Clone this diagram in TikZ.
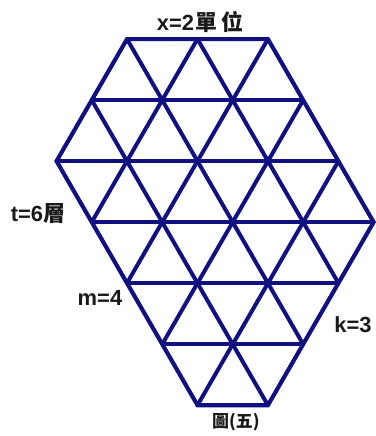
\documentclass[tikz,border=0pt]{standalone}
\usepackage{fontspec}
\setmainfont{Liberation Sans}
\newfontfamily\cjk{Noto Sans CJK TC}
\usetikzlibrary{calc}
\definecolor{navy}{RGB}{16,16,128}
\definecolor{ink}{RGB}{25,25,25}
\tikzset{
  grid line/.style={line width=4bp,draw=navy},
  tag/.style={font=\fontsize{22}{24}\selectfont\bfseries,text=ink,inner sep=0pt},
  caption/.style={font=\fontsize{17}{19}\selectfont\cjk\bfseries,text=ink,inner sep=0pt},
}
\begin{document}
\begin{tikzpicture}[x=70.5bp,y=61.05bp]
  \useasboundingbox (-1.801,-6.503) rectangle (3.532,0.639);
  % corners of the hexagon
  \coordinate (tl) at (0,0); \coordinate (tr) at (2,0); \coordinate (rr) at (3.5,-3);
  \coordinate (br) at (2,-6); \coordinate (bl) at (1,-6); \coordinate (ll) at (-1,-2);
  \begin{scope}
    \clip (tl) -- (tr) -- (rr) -- (br) -- (bl) -- (ll) -- cycle;
    \foreach \r in {0,...,6} \draw[grid line] (-2,-\r) -- (4,-\r);
    \foreach \a in {-3,...,6} {
      \draw[grid line] (\a+0.5,1) -- (\a-3.5,-7);
      \draw[grid line] (\a-0.5,1) -- (\a+3.5,-7);
    }
  \end{scope}
  \draw[grid line,line join=miter] (tl) -- (tr) -- (rr) -- (br) -- (bl) -- (ll) -- cycle;
  % labels
  \node[tag] (width) at (1.035,0.278) {x=2\kern1bp{\cjk 單\kern4bp 位}};
  \node[tag] (layers) at (-1.262,-2.866) {t=6{\cjk 層}};
  \node[tag] (left) at (-0.383,-4.242) {m=4};
  \node[tag] (right) at (3.206,-4.685) {k=3};
  \node[caption] (fig) at (1.546,-6.274) {圖(五)};
\end{tikzpicture}
\end{document}
